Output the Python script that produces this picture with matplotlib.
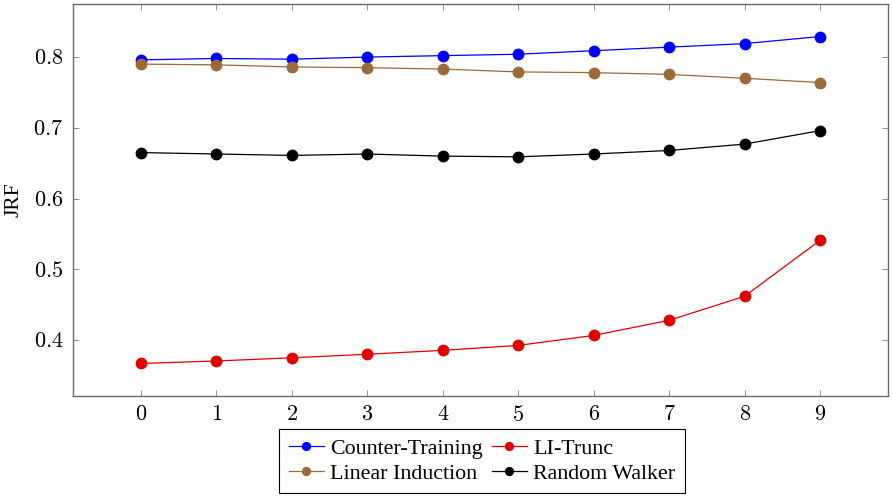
import matplotlib
matplotlib.use("Agg")
import matplotlib.pyplot as plt
from matplotlib.ticker import FuncFormatter

plt.rcParams['mathtext.fontset'] = 'cm'
plt.rcParams['font.family'] = ['Liberation Serif', 'DejaVu Serif']

x = list(range(10))
counter_training = [0.796, 0.798, 0.797, 0.800, 0.802, 0.804, 0.809, 0.814, 0.819, 0.829]
li_trunc = [0.367, 0.3705, 0.375, 0.380, 0.3855, 0.3925, 0.4066, 0.428, 0.462, 0.541]
linear_induction = [0.790, 0.789, 0.786, 0.785, 0.783, 0.779, 0.778, 0.7755, 0.770, 0.764]
random_walker = [0.665, 0.663, 0.661, 0.663, 0.660, 0.659, 0.663, 0.668, 0.677, 0.696]
xticks = list(range(10))
yticks = [0.4, 0.5, 0.6, 0.7, 0.8]

fig = plt.figure(figsize=(8.93, 4.98), dpi=100)
ax = fig.add_axes([0.0817, 0.2048, 0.9127, 0.7872])

style = dict(marker='o', markersize=7.5, linewidth=0.9)
h_ct, = ax.plot(x, counter_training, color='#0000ff', label='Counter-Training', **style)
h_li, = ax.plot(x, li_trunc, color='#e00000', label='LI-Trunc', **style)
h_lin, = ax.plot(x, linear_induction, color='#9c6a38', label='Linear Induction', **style)
h_rw, = ax.plot(x, random_walker, color='black', label='Random Walker', **style)

ax.set_xlim(-0.9, 9.9)
ax.set_ylim(0.321, 0.875)
ax.set_xticks(xticks)
ax.set_yticks(yticks)
ax.xaxis.set_major_formatter(FuncFormatter(lambda v, p: r'$%d$' % round(v)))
ax.yaxis.set_major_formatter(FuncFormatter(lambda v, p: r'$%.1f$' % v))
ax.tick_params(direction='in', top=True, right=True, length=4, width=0.6,
               color='#808080', labelsize=16, pad=7)
for s in ax.spines.values():
    s.set_color('#6a6a6a')
    s.set_linewidth(1.0)

ax.set_ylabel('JRF', fontsize=15.5, labelpad=7)
ax.set_xlabel('Walks', fontsize=15.5, labelpad=2)

handles = [h_ct, h_lin, h_li, h_rw]
leg = ax.legend(handles=handles, labels=[h.get_label() for h in handles],
                loc='upper center', bbox_to_anchor=(0.502, -0.084), ncol=2,
                frameon=True, fancybox=False, edgecolor='black', fontsize=15.8,
                framealpha=1.0, handlelength=1.6, handletextpad=0.3, columnspacing=0.4,
                borderpad=0.42, labelspacing=0.22, borderaxespad=0.0,
                markerscale=0.75)
leg.get_frame().set_linewidth(0.8)
leg.set_zorder(10)

fig.savefig('out.png', dpi=100, facecolor='white')
